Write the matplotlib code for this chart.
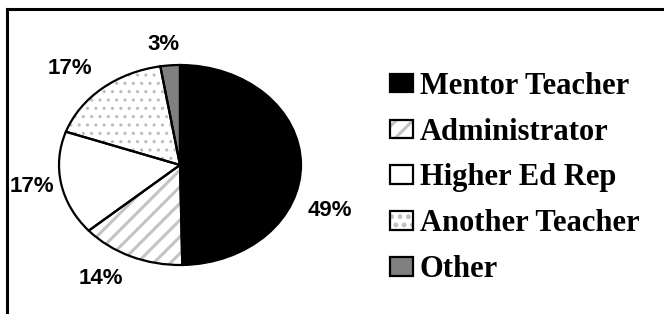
import matplotlib
matplotlib.use("Agg")
import matplotlib.pyplot as plt
from matplotlib.patches import Patch
from matplotlib.lines import Line2D

categories = ["Mentor Teacher", "Administrator", "Higher Ed Rep", "Another Teacher", "Other"]
values = [49.7, 13.9, 16.8, 17.0, 2.6]
pct_labels = ["49%", "14%", "17%", "17%", "3%"]

fills = ["#000000", "#ffffff", "#ffffff", "#ffffff", "#808080"]
hatches = [None, "//", None, "..", None]
hatch_col = ["#000000", "#c4c4c4", "#ffffff", "#bdbdbd", "#808080"]
hatch_lw = [1.0, 2.2, 1.0, 1.1, 1.0]

# label anchor positions (in pie radius units)
label_pos = [(1.24, -0.46), (-0.65, -1.13), (-1.22, -0.21), (-0.91, 0.96), (-0.14, 1.21)]

W, H = 664, 314
fig = plt.figure(figsize=(W / 100, H / 100), dpi=100)
fig.patch.set_facecolor("white")

cx, cy, rx, ry = 180, 165, 121, 100
lim = 1.3
ax = fig.add_axes([(cx - lim * rx) / W, (H - cy - lim * ry) / H, 2 * lim * rx / W, 2 * lim * ry / H])


def style_fill(p, h, hc, hl):
    p.set_edgecolor(hc)
    p.set_linewidth(0)
    if h:
        p.set_hatch(h)
        if hasattr(p, "set_hatch_linewidth"):
            p.set_hatch_linewidth(hl)


plt.rcParams["hatch.linewidth"] = 2.2
wedges_fill, _ = ax.pie(values, startangle=90, counterclock=False, colors=fills,
                        wedgeprops=dict(linewidth=0))
for w, h, hc, hl in zip(wedges_fill, hatches, hatch_col, hatch_lw):
    style_fill(w, h, hc, hl)
wedges_edge, _ = ax.pie(values, startangle=90, counterclock=False,
                        wedgeprops=dict(fill=False, edgecolor="black", linewidth=1.6))
ax.set_aspect("auto")
ax.set_xlim(-lim, lim)
ax.set_ylim(-lim, lim)
ax.axis("off")

for lab, (x, y) in zip(pct_labels, label_pos):
    ax.text(x, y, lab, ha="center", va="center", fontsize=16, fontweight="bold",
            family="Liberation Sans")

# legend
handles = []
for f, h, hc, hl in zip(fills, hatches, hatch_col, hatch_lw):
    p1 = Patch(facecolor=f)
    style_fill(p1, h, hc, hl)
    p2 = Patch(facecolor="none", edgecolor="black", linewidth=1.6)
    handles.append((p1, p2))
leg = fig.legend(handles, categories, loc="center left",
                 bbox_to_anchor=(390 / W, (H - 178) / H), frameon=False,
                 prop=dict(family="Liberation Serif", weight="bold", size=22),
                 handlelength=0.76, handleheight=0.55, handletextpad=0.22,
                 labelspacing=0.55, borderpad=0, borderaxespad=0)

# frame (only top and left visible)
fig.add_artist(Line2D([7 / W, 7 / W], [0, (H - 9) / H], transform=fig.transFigure,
                      color="black", linewidth=2.2, solid_capstyle="projecting"))
fig.add_artist(Line2D([7 / W, 1], [(H - 9) / H, (H - 9) / H], transform=fig.transFigure,
                      color="black", linewidth=2.2, solid_capstyle="projecting"))

fig.savefig("out.png", dpi=100)
